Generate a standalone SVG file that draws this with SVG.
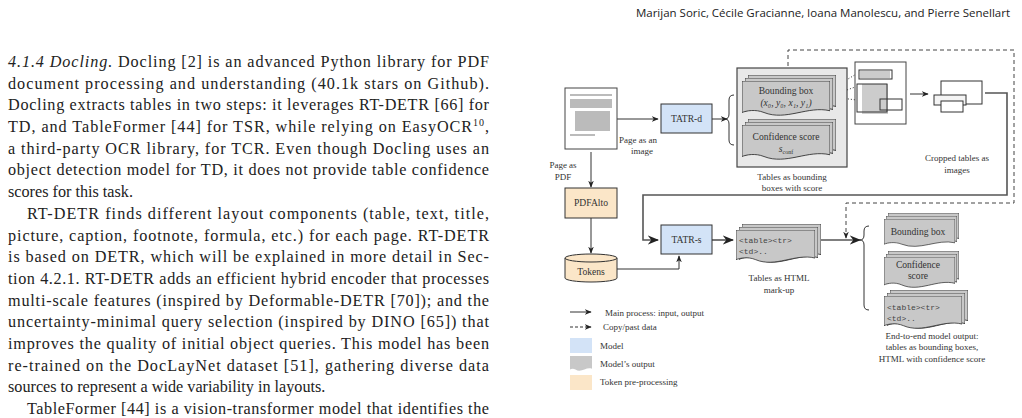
<svg xmlns="http://www.w3.org/2000/svg" width="1022" height="418" viewBox="0 0 1022 418">
<defs>
<style>
.b{font-family:"Liberation Serif",serif;font-size:16.2px;fill:#222}
.d{font-family:"Liberation Serif",serif;font-size:9px;fill:#333}
.n{font-size:9.6px}
.m{font-family:"Liberation Mono",monospace;font-size:8px;fill:#444}
.ln{stroke:#333;stroke-width:1;fill:none}
.gl{stroke:#555;stroke-width:1.6;fill:none}
.ds{stroke:#444;stroke-width:1;fill:none;stroke-dasharray:4 3}
.doc{fill:#c8c8c8;stroke:#333;stroke-width:1}
.model{fill:#d3e3f7;stroke:#333;stroke-width:1}
.tok{fill:#fbe6c8;stroke:#333;stroke-width:1}
</style>
<marker id="a" viewBox="0 0 10 10" refX="9" refY="5" markerWidth="7" markerHeight="7" orient="auto"><path d="M0,1 L10,5 L0,9 L3,5 Z" fill="#222"/></marker>
<symbol id="wavy" viewBox="0 0 100 40" preserveAspectRatio="none"><path d="M0,0 H100 V34 C75,28 50,46 25,36 C15,32 5,34 0,36 Z"/></symbol>
</defs>
<rect width="1022" height="418" fill="#fff"/>
<text x="1010" y="17" text-anchor="end" style="font-family:'Open Sans',sans-serif;font-size:11.5px;fill:#222">Marijan Soric, Cécile Gracianne, Ioana Manolescu, and Pierre Senellart</text>
<g class="b">
<text x="8" y="67" textLength="481" lengthAdjust="spacing"><tspan font-style="italic">4.1.4   Docling.</tspan> Docling [2] is an advanced Python library for PDF</text>
<text x="8" y="89" textLength="481" lengthAdjust="spacing">document processing and understanding (40.1k stars on Github).</text>
<text x="8" y="110" textLength="481" lengthAdjust="spacing">Docling extracts tables in two steps: it leverages RT-DETR [66] for</text>
<text x="8" y="132" textLength="481" lengthAdjust="spacing">TD, and TableFormer [44] for TSR, while relying on EasyOCR<tspan font-size="10" dy="-6">10</tspan><tspan dy="6">,</tspan></text>
<text x="8" y="154" textLength="481" lengthAdjust="spacing">a third-party OCR library, for TCR. Even though Docling uses an</text>
<text x="8" y="175" textLength="481" lengthAdjust="spacing">object detection model for TD, it does not provide table confidence</text>
<text x="8" y="197">scores for this task.</text>
<text x="27" y="219" textLength="462" lengthAdjust="spacing">RT-DETR finds different layout components (table, text, title,</text>
<text x="8" y="241" textLength="481" lengthAdjust="spacing">picture, caption, footnote, formula, etc.) for each page. RT-DETR</text>
<text x="8" y="262" textLength="481" lengthAdjust="spacing">is based on DETR, which will be explained in more detail in Sec-</text>
<text x="8" y="284" textLength="481" lengthAdjust="spacing">tion 4.2.1. RT-DETR adds an efficient hybrid encoder that processes</text>
<text x="8" y="306" textLength="481" lengthAdjust="spacing">multi-scale features (inspired by Deformable-DETR [70]); and the</text>
<text x="8" y="327" textLength="481" lengthAdjust="spacing">uncertainty-minimal query selection (inspired by DINO [65]) that</text>
<text x="8" y="349" textLength="481" lengthAdjust="spacing">improves the quality of initial object queries. This model has been</text>
<text x="8" y="371" textLength="481" lengthAdjust="spacing">re-trained on the DocLayNet dataset [51], gathering diverse data</text>
<text x="8" y="392">sources to represent a wide variability in layouts.</text>
<text x="27" y="414" textLength="462" lengthAdjust="spacing">TableFormer [44] is a vision-transformer model that identifies the</text>
</g>
<g id="connectors">
<path class="ln" d="M617,119 H658" marker-end="url(#a)"/>
<path class="ln" d="M712,119 H727" marker-end="url(#a)"/>
<path class="ln" d="M591,152 V187" marker-end="url(#a)"/>
<path class="ln" d="M591,218 V253" marker-end="url(#a)"/>
<path class="ln" d="M617,269 H679 V256" marker-end="url(#a)"/>
<path class="ln" d="M910,94 H928" marker-end="url(#a)"/>
<path class="gl" d="M985,93 H1007 V195 H643 V240 H658" marker-end="url(#a)"/>
<path class="gl" d="M712,240 H733" marker-end="url(#a)"/>
<path class="gl" d="M820,240 H860" marker-end="url(#a)"/>
<path class="ds" d="M788,66 V50 H1014 V203 H846 V238" marker-end="url(#a)"/>
<path class="ln" stroke-dasharray="1 2" d="M833,88 L858,73 M833,95 L858,86 M833,97 L880,103"/>
</g>
<g id="page-pdf">
<rect x="565" y="88" width="52" height="61" fill="#fff" stroke="#444"/>
<g fill="#bbb"><rect x="570" y="94" width="42" height="2"/><rect x="570" y="99" width="42" height="9"/><rect x="575" y="111" width="35" height="20"/><rect x="570" y="134" width="25" height="2"/></g>
</g>
<g id="tatr-d"><rect class="model" x="661" y="104" width="51" height="29"/><text class="d n" x="686.5" y="122" text-anchor="middle">TATR-d</text></g>
<text class="d" x="619" y="143">Page as an</text><text class="d" x="642" y="154" text-anchor="middle">image</text>
<text class="d" x="563" y="168" text-anchor="middle">Page as</text><text class="d" x="563" y="180" text-anchor="middle">PDF</text>
<path class="ln" d="M734,95 Q729,95 729,100 V114 Q729,119 725,119 Q729,119 729,124 V140 Q729,145 734,145"/>
<g id="bbox-score">
<rect x="737" y="68" width="110" height="99" fill="#e8e8e8" stroke="#444" stroke-width="1.2"/>
<g class="doc"><svg x="748" y="75" width="88" height="37"><use href="#wavy"/></svg><svg x="745" y="78" width="88" height="37"><use href="#wavy"/></svg><svg x="742" y="81" width="88" height="35"><use href="#wavy"/></svg></g>
<text class="d n" x="786" y="94" text-anchor="middle">Bounding box</text>
<text class="d n" x="786" y="106" text-anchor="middle" font-style="italic">(x₀, y₀, x₁, y₁)</text>
<g class="doc"><svg x="748" y="119" width="88" height="37"><use href="#wavy"/></svg><svg x="745" y="122" width="88" height="37"><use href="#wavy"/></svg><svg x="742" y="125" width="88" height="35"><use href="#wavy"/></svg></g>
<text class="d n" x="786" y="140" text-anchor="middle">Confidence score</text>
<text class="d n" x="786" y="152" text-anchor="middle" font-style="italic">s<tspan font-size="6" dy="2" font-style="normal">conf</tspan></text>
<text class="d" x="792" y="180" text-anchor="middle">Tables as bounding</text><text class="d" x="792" y="191" text-anchor="middle">boxes with score</text>
</g>
<g id="page-crops">
<rect x="855" y="62" width="51" height="62" fill="#fff" stroke="#444"/>
<g fill="#ccc"><rect x="860" y="71" width="30" height="7"/><rect x="862" y="84" width="26" height="30"/></g>
<rect x="859" y="70" width="33" height="9" fill="none" stroke="#333"/><rect x="857" y="84" width="30" height="28" fill="none" stroke="#333"/><rect x="880" y="99" width="22" height="11" fill="none" stroke="#333"/>
</g>
<g id="cropped">
<rect x="941" y="81" width="41" height="23" fill="#fff" stroke="#333"/><rect x="934" y="95" width="32" height="10" fill="#f4f4f4" stroke="#333"/><rect x="941" y="101" width="22" height="11" fill="#fff" stroke="#333"/>
<text class="d" x="957" y="161" text-anchor="middle">Cropped tables as</text><text class="d" x="957" y="173" text-anchor="middle">images</text>
</g>
<g id="pdfalto"><rect class="tok" x="565" y="188" width="52" height="30"/><text class="d n" x="591" y="206" text-anchor="middle">PDFAlto</text></g>
<g id="tokens"><path class="tok" d="M565,258 V278 A26,4 0 0 0 617,278 V258 A26,4 0 0 0 565,258 A26,4 0 0 0 617,258"/><text class="d n" x="591" y="275" text-anchor="middle">Tokens</text></g>
<g id="tatr-s"><rect class="model" x="661" y="225" width="51" height="29"/><text class="d n" x="686.5" y="243" text-anchor="middle">TATR-s</text></g>
<g id="html">
<g class="doc"><svg x="742" y="224" width="79" height="36"><use href="#wavy"/></svg><svg x="739" y="227" width="79" height="36"><use href="#wavy"/></svg><svg x="736" y="230" width="79" height="33"><use href="#wavy"/></svg></g>
<text class="m" x="739" y="243">&lt;table&gt;&lt;tr&gt;</text><text class="m" x="739" y="254">&lt;td&gt;..</text>
<text class="d" x="779" y="281" text-anchor="middle">Tables as HTML</text><text class="d" x="779" y="293" text-anchor="middle">mark-up</text>
</g>
<path class="ln" d="M869,226 Q864,226 864,231 V235 Q864,240 860,240 Q864,240 864,245 V305 Q864,310 869,310"/>
<g id="out-bbox">
<g class="doc"><svg x="888" y="213" width="71" height="30"><use href="#wavy"/></svg><svg x="886" y="216" width="71" height="30"><use href="#wavy"/></svg><svg x="884" y="219" width="71" height="28"><use href="#wavy"/></svg></g>
<text class="d n" x="918" y="235" text-anchor="middle">Bounding box</text>
</g>
<g id="out-conf">
<g class="doc"><svg x="888" y="251" width="71" height="33"><use href="#wavy"/></svg><svg x="886" y="254" width="71" height="33"><use href="#wavy"/></svg><svg x="884" y="257" width="71" height="31"><use href="#wavy"/></svg></g>
<text class="d n" x="918" y="268" text-anchor="middle">Confidence</text><text class="d n" x="918" y="279" text-anchor="middle">score</text>
</g>
<g id="out-html">
<g class="doc"><svg x="890" y="290" width="78" height="36"><use href="#wavy"/></svg><svg x="887" y="293" width="78" height="36"><use href="#wavy"/></svg><svg x="884" y="296" width="78" height="33"><use href="#wavy"/></svg></g>
<text class="m" x="887" y="310">&lt;table&gt;&lt;tr&gt;</text><text class="m" x="887" y="321">&lt;td&gt;..</text>
<text class="d" x="932" y="339" text-anchor="middle">End-to-end model output:</text>
<text class="d" x="932" y="350" text-anchor="middle">tables as bounding boxes,</text>
<text class="d" x="932" y="362" text-anchor="middle">HTML with confidence score</text>
</g>
<g id="legend">
<path class="ln" d="M570,312 H591" marker-end="url(#a)"/><text class="d" x="605" y="316">Main process: input, output</text>
<path class="ln" stroke-dasharray="3 2" d="M570,327 H591" marker-end="url(#a)"/><text class="d" x="603" y="330">Copy/past data</text>
<rect x="570" y="338" width="22" height="15" fill="#d3e3f7"/><text class="d" x="600" y="349">Model</text>
<svg x="570" y="356" width="22" height="15" fill="#c8c8c8"><use href="#wavy"/></svg><text class="d" x="600" y="367">Model’s output</text>
<rect x="570" y="375" width="22" height="15" fill="#fbe6c8"/><text class="d" x="600" y="385">Token pre-processing</text>
</g>
</svg>
